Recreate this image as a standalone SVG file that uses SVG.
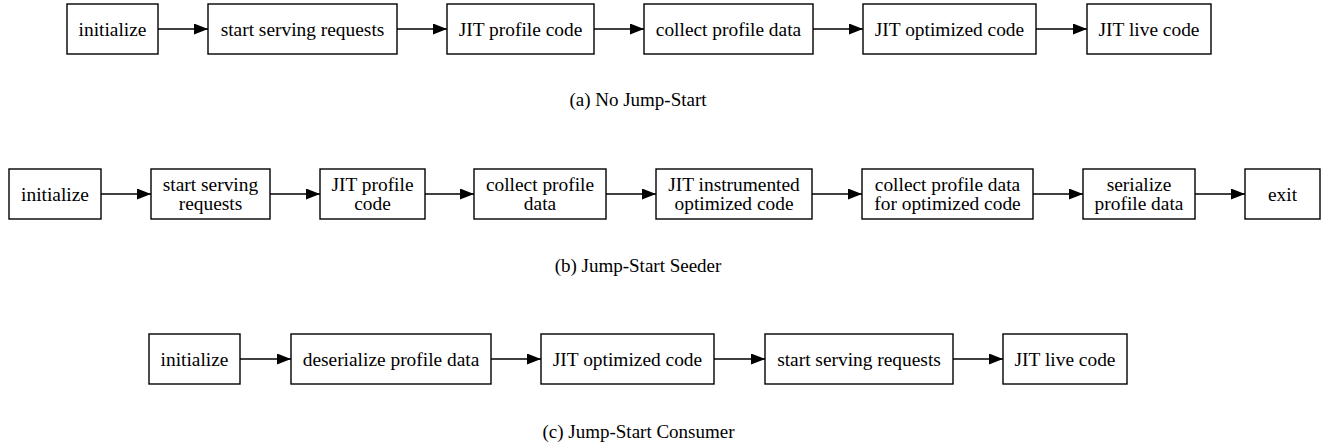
<svg xmlns="http://www.w3.org/2000/svg" width="1328" height="444" viewBox="0 0 1328 444">
<defs>
<marker id="ah" viewBox="0 0 14 11" refX="14" refY="5.5" markerWidth="14" markerHeight="11" markerUnits="userSpaceOnUse" orient="auto">
<path d="M0,0 L14,5.5 L0,11 Z" fill="#000"/>
</marker>
</defs>
<style>
rect{fill:#fff;stroke:#000;stroke-width:1.4}
text{font-family:"Liberation Serif","Times New Roman",serif;font-size:19.4px;fill:#000;text-anchor:middle}
.cap{font-size:19px}
#edges line{stroke:#000;stroke-width:1.4;marker-end:url(#ah)}
</style>
<rect x="0" y="0" width="1328" height="444" style="fill:#fff;stroke:none"/>
<!-- Row a -->
<g id="a_init"><rect x="67" y="4" width="91" height="50"/><text x="112.5" y="35.5">initialize</text></g>
<g id="a_serve"><rect x="208" y="4" width="189" height="50"/><text x="302.5" y="35.5">start serving requests</text></g>
<g id="a_prof"><rect x="447" y="4" width="147" height="50"/><text x="520.5" y="35.5">JIT profile code</text></g>
<g id="a_coll"><rect x="644" y="4" width="169" height="50"/><text x="728.5" y="35.5">collect profile data</text></g>
<g id="a_opt"><rect x="863" y="4" width="173" height="50"/><text x="949.5" y="35.5">JIT optimized code</text></g>
<g id="a_live"><rect x="1087" y="4" width="124" height="50"/><text x="1149" y="35.5">JIT live code</text></g>
<text class="cap" x="638" y="106">(a) No Jump-Start</text>
<!-- Row b -->
<g id="b_init"><rect x="9" y="169" width="92" height="50"/><text x="55" y="200.5">initialize</text></g>
<g id="b_serve"><rect x="151" y="169" width="119" height="50"/><text x="210.5" y="190.5">start serving</text><text x="210.5" y="209.5">requests</text></g>
<g id="b_prof"><rect x="320" y="169" width="105" height="50"/><text x="372.5" y="190.5">JIT profile</text><text x="372.5" y="209.5">code</text></g>
<g id="b_coll"><rect x="474" y="169" width="132" height="50"/><text x="540" y="190.5">collect profile</text><text x="540" y="209.5">data</text></g>
<g id="b_instr"><rect x="656" y="169" width="156" height="50"/><text x="734" y="190.5">JIT instrumented</text><text x="734" y="209.5">optimized code</text></g>
<g id="b_coll2"><rect x="862" y="169" width="171" height="50"/><text x="947.5" y="190.5">collect profile data</text><text x="947.5" y="209.5">for optimized code</text></g>
<g id="b_ser"><rect x="1083" y="169" width="112" height="50"/><text x="1139" y="190.5">serialize</text><text x="1139" y="209.5">profile data</text></g>
<g id="b_exit"><rect x="1245" y="169" width="75" height="50"/><text x="1282.5" y="200.5">exit</text></g>
<text class="cap" x="638" y="272">(b) Jump-Start Seeder</text>
<!-- Row c -->
<g id="c_init"><rect x="149" y="334" width="91" height="50"/><text x="194.5" y="365.5">initialize</text></g>
<g id="c_deser"><rect x="291" y="334" width="200" height="50"/><text x="391" y="365.5">deserialize profile data</text></g>
<g id="c_opt"><rect x="541" y="334" width="173" height="50"/><text x="627.5" y="365.5">JIT optimized code</text></g>
<g id="c_serve"><rect x="765" y="334" width="188" height="50"/><text x="859" y="365.5">start serving requests</text></g>
<g id="c_live"><rect x="1003" y="334" width="124" height="50"/><text x="1065" y="365.5">JIT live code</text></g>
<text class="cap" x="638.5" y="438">(c) Jump-Start Consumer</text>
<g id="edges">
<line x1="158" y1="29" x2="208" y2="29"/>
<line x1="397" y1="29" x2="447" y2="29"/>
<line x1="594" y1="29" x2="644" y2="29"/>
<line x1="813" y1="29" x2="863" y2="29"/>
<line x1="1036" y1="29" x2="1087" y2="29"/>
<line x1="101" y1="194" x2="151" y2="194"/>
<line x1="270" y1="194" x2="320" y2="194"/>
<line x1="425" y1="194" x2="474" y2="194"/>
<line x1="606" y1="194" x2="656" y2="194"/>
<line x1="812" y1="194" x2="862" y2="194"/>
<line x1="1033" y1="194" x2="1083" y2="194"/>
<line x1="1195" y1="194" x2="1245" y2="194"/>
<line x1="240" y1="359" x2="291" y2="359"/>
<line x1="491" y1="359" x2="541" y2="359"/>
<line x1="714" y1="359" x2="765" y2="359"/>
<line x1="953" y1="359" x2="1003" y2="359"/>
</g>
</svg>
